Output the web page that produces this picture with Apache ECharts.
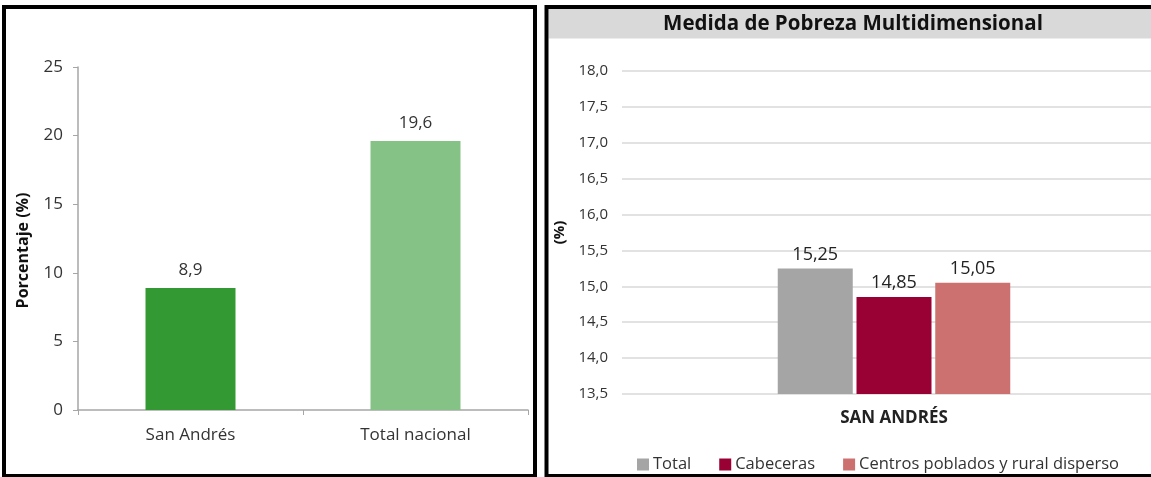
<!DOCTYPE html>
<html>
<head>
<meta charset="utf-8">
<script src="https://cdn.jsdelivr.net/npm/echarts@6/dist/echarts.min.js"></script>
<style>
  html, body { margin: 0; padding: 0; background: #fff; overflow: hidden; }
  #chart { width: 1166px; height: 477px; }
</style>
</head>
<body>
<div id="chart"></div>
<script>
// left panel: porcentaje
var zonas = ['San Andrés', 'Total nacional'];
var porcentajes = [8.9, 19.6];
var coloresZona = ['#339933', '#85c285'];

// right panel: medida de pobreza multidimensional
var regiones = ['SAN ANDRÉS'];
var serieNombres = ['Total', 'Cabeceras', 'Centros poblados y rural disperso'];
var serieTotal = [15.25];
var serieCabeceras = [14.85];
var serieCentros = [15.05];
var serieColores = ['#a5a5a5', '#990033', '#cc7070'];

var fuente = 'Open Sans';
var coma = function (v, d) { return Number(v).toFixed(d).replace('.', ','); };

var chart = echarts.init(document.getElementById('chart'));

function barraDerecha(nombre, datos, color) {
    return {
        name: nombre,
        type: 'bar',
        xAxisIndex: 1,
        yAxisIndex: 1,
        barWidth: 75,
        barGap: '5%',
        itemStyle: { color: color },
        label: {
            show: true,
            position: 'top',
            distance: 5,
            color: '#222',
            fontFamily: fuente,
            fontSize: 18,
            formatter: function (p) { return coma(p.value, 2); }
        },
        data: datos
    };
}

var option = {
    animation: false,
    textStyle: { fontFamily: fuente },
    graphic: [
        { type: 'rect', shape: { x: 4, y: 7, width: 531, height: 469 },
          style: { fill: 'none', stroke: '#000', lineWidth: 4 } },
        { type: 'rect', shape: { x: 548.5, y: 9, width: 620, height: 29.5 },
          style: { fill: '#d9d9d9' } },
        { type: 'rect', shape: { x: 546.5, y: 7, width: 630, height: 469 },
          style: { fill: 'none', stroke: '#000', lineWidth: 4 } },
        { type: 'text', x: 853, y: 24,
          style: { text: 'Medida de Pobreza Multidimensional', fill: '#111',
                   font: 'bold 20.5px "Open Sans"', align: 'center', verticalAlign: 'middle' } }
    ],
    legend: {
        left: 637,
        top: 456,
        padding: 0,
        itemWidth: 12,
        itemHeight: 12,
        itemGap: 28,
        icon: 'rect',
        textStyle: { fontFamily: fuente, fontSize: 16.5, color: '#333', padding: [0, 0, 0, -1] },
        data: serieNombres
    },
    grid: [
        { left: 78, right: 638, top: 67, bottom: 67 },
        { left: 622, right: 0, top: 71, bottom: 83 }
    ],
    xAxis: [
        {
            type: 'category',
            gridIndex: 0,
            data: zonas,
            axisLine: { lineStyle: { color: '#a6a6a6', width: 1.5 } },
            axisTick: { show: true, length: 5, lineStyle: { color: '#a6a6a6' } },
            axisLabel: { color: '#333', fontSize: 17, margin: 17 }
        },
        {
            type: 'category',
            gridIndex: 1,
            data: regiones,
            axisLine: { show: false },
            axisTick: { show: false },
            axisLabel: { color: '#222', fontSize: 17, fontWeight: 'bold', margin: 16 }
        }
    ],
    yAxis: [
        {
            type: 'value',
            gridIndex: 0,
            min: 0,
            max: 25,
            interval: 5,
            name: 'Porcentaje (%)',
            nameLocation: 'middle',
            nameGap: 47,
            nameTextStyle: { fontSize: 16, fontWeight: 'bold', color: '#111', padding: [0, 24, 0, 0] },
            axisLine: { show: true, lineStyle: { color: '#a6a6a6', width: 1.5 } },
            axisTick: { show: true, length: 5, lineStyle: { color: '#a6a6a6' } },
            axisLabel: { color: '#333', fontSize: 17, margin: 15 },
            splitLine: { show: false }
        },
        {
            type: 'value',
            gridIndex: 1,
            min: 13.5,
            max: 18,
            interval: 0.5,
            name: '(%)',
            nameLocation: 'middle',
            nameGap: 55,
            nameTextStyle: { fontSize: 15, fontWeight: 'bold', color: '#111' },
            axisLine: { show: false },
            axisTick: { show: false },
            axisLabel: { color: '#333', fontSize: 15, margin: 14,
                         formatter: function (v) { return coma(v, 1); } },
            splitLine: { lineStyle: { color: '#d9d9d9', width: 1.5 } }
        }
    ],
    series: [
        {
            name: 'Porcentaje',
            type: 'bar',
            xAxisIndex: 0,
            yAxisIndex: 0,
            barWidth: 90,
            label: {
                show: true,
                position: 'top',
                distance: 9,
                color: '#333',
                fontSize: 17,
                formatter: function (p) { return coma(p.value, 1); }
            },
            data: porcentajes.map(function (v, i) {
                return { value: v, itemStyle: { color: coloresZona[i] } };
            })
        },
        barraDerecha(serieNombres[0], serieTotal, serieColores[0]),
        barraDerecha(serieNombres[1], serieCabeceras, serieColores[1]),
        barraDerecha(serieNombres[2], serieCentros, serieColores[2])
    ]
};

chart.setOption(option);
</script>
</body>
</html>
